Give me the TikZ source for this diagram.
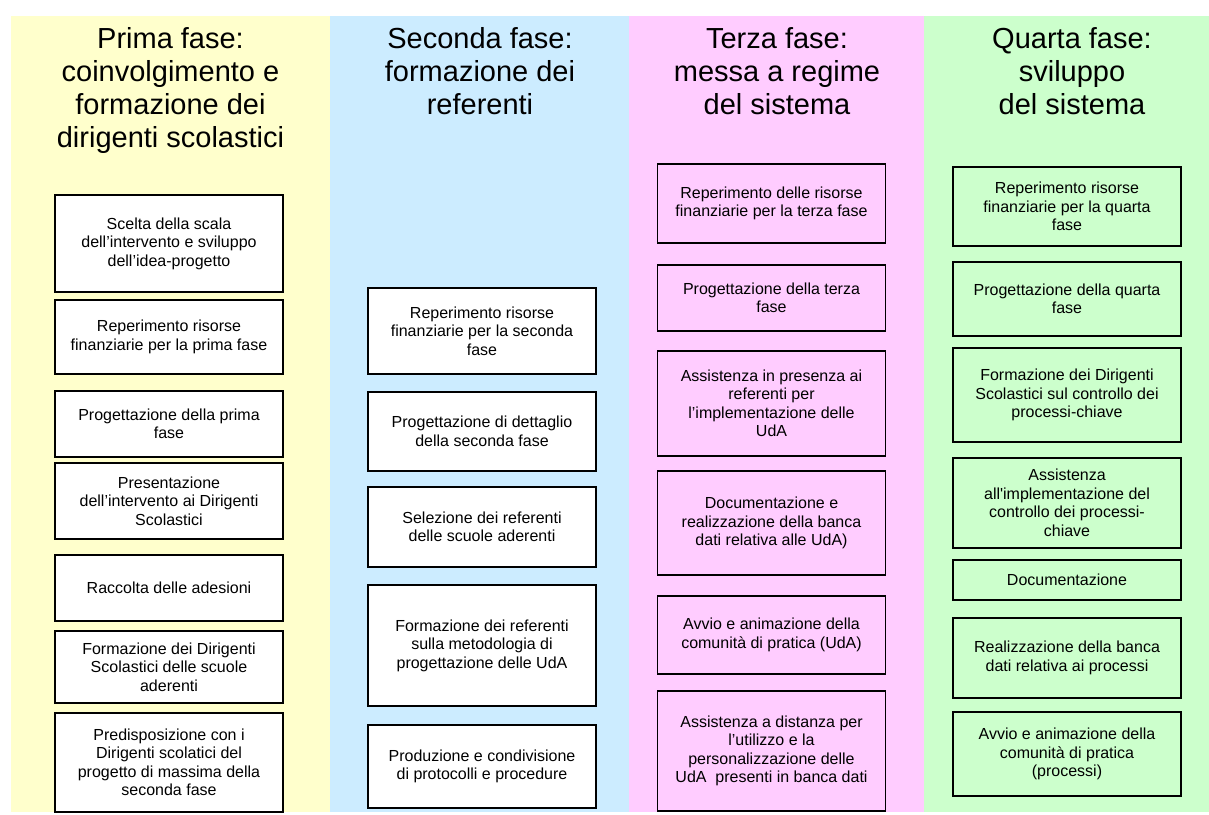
\documentclass[tikz,border=0pt]{standalone}
\usepackage{fontspec}
\setmainfont{Liberation Sans}
\definecolor{giallo}{HTML}{FFFFCC}
\definecolor{azzurro}{HTML}{CCECFF}
\definecolor{rosa}{HTML}{FFCCFF}
\definecolor{verde}{HTML}{CCFFCC}
\tikzset{
  titolo/.style={anchor=north, align=center, inner sep=0pt,
    font=\fontsize{29}{33}\selectfont},
  attivita/.style={draw=black, line width=1.6pt, align=center, inner sep=2pt,
    minimum width=228pt, font=\fontsize{16}{18.5}\selectfont},
}
\begin{document}
\begin{tikzpicture}[x=1pt, y=-1pt]
\useasboundingbox (0,0) rectangle (1209,814);

% === Fasce delle quattro fasi ===
\fill[giallo]  (11,16)  rectangle (330,812);
\fill[azzurro] (330,16) rectangle (629,812);
\fill[rosa]    (629,16) rectangle (924,812);
\fill[verde]   (924,16) rectangle (1209,812);

% === Prima fase ===
\begin{scope}[shift={(169,0)}]
  \node[titolo] (tit1) at (1.5,27) {Prima fase:\\coinvolgimento e\\formazione dei\\dirigenti scolastici};
  \node[attivita, fill=white, minimum height=97pt] (p1) at (0,243.5)
    {Scelta della scala\\dell’intervento e sviluppo\\dell’idea-progetto};
  \node[attivita, fill=white, minimum height=74pt] (p2) at (0,337)
    {Reperimento risorse\\finanziarie per la prima fase};
  \node[attivita, fill=white, minimum height=66pt] (p3) at (0,424)
    {Progettazione della prima\\fase};
  \node[attivita, fill=white, minimum height=76pt] (p4) at (0,501)
    {Presentazione\\dell’intervento ai Dirigenti\\Scolastici};
  \node[attivita, fill=white, minimum height=66pt] (p5) at (0,588)
    {Raccolta delle adesioni};
  \node[attivita, fill=white, minimum height=72pt] (p6) at (0,667)
    {Formazione dei Dirigenti\\Scolastici delle scuole\\aderenti};
  \node[attivita, fill=white, minimum height=99pt] (p7) at (0,762.5)
    {Predisposizione con i\\Dirigenti scolatici del\\progetto di massima della\\seconda fase};
\end{scope}

% === Seconda fase ===
\begin{scope}[shift={(482,0)}]
  \node[titolo] (tit2) at (-2,27) {Seconda fase:\\formazione dei\\referenti};
  \node[attivita, fill=white, minimum height=86pt] (s1) at (0,331)
    {Reperimento risorse\\finanziarie per la seconda\\fase};
  \node[attivita, fill=white, minimum height=79pt] (s2) at (0,431.5)
    {Progettazione di dettaglio\\della seconda fase};
  \node[attivita, fill=white, minimum height=80pt] (s3) at (0,527)
    {Selezione dei referenti\\delle scuole aderenti};
  \node[attivita, fill=white, minimum height=121pt] (s4) at (0,645.5)
    {Formazione dei referenti\\sulla metodologia di\\progettazione delle UdA};
  \node[attivita, fill=white, minimum height=83pt] (s5) at (0,766.5)
    {Produzione e condivisione\\di protocolli e procedure};
\end{scope}

% === Terza fase ===
\begin{scope}[shift={(771.5,0)}]
  \node[titolo] (tit3) at (5.5,27) {Terza fase:\\messa a regime\\del sistema};
  \node[attivita, fill=rosa, minimum height=79pt] (t1) at (0,203.5)
    {Reperimento delle risorse\\finanziarie per la terza fase};
  \node[attivita, fill=rosa, minimum height=66pt] (t2) at (0,298)
    {Progettazione della terza\\fase};
  \node[attivita, fill=rosa, minimum height=105pt] (t3) at (0,403.5)
    {Assistenza in presenza ai\\referenti per\\l’implementazione delle\\UdA};
  \node[attivita, fill=rosa, minimum height=104pt] (t4) at (0,523)
    {Documentazione e\\realizzazione della banca\\dati relativa alle UdA)};
  \node[attivita, fill=rosa, minimum height=78pt] (t5) at (0,635)
    {Avvio e animazione della\\comunità di pratica (UdA)};
  \node[attivita, fill=rosa, minimum height=120pt] (t6) at (0,751)
    {Assistenza a distanza per\\l’utilizzo e la\\personalizzazione delle\\UdA\ \ presenti in banca dati};
\end{scope}

% === Quarta fase ===
\begin{scope}[shift={(1067,0)}]
  \node[titolo] (tit4) at (5,27) {Quarta fase:\\sviluppo\\del sistema};
  \node[attivita, fill=verde, minimum height=79pt] (q1) at (0,206.5)
    {Reperimento risorse\\finanziarie per la quarta\\fase};
  \node[attivita, fill=verde, minimum height=74pt] (q2) at (0,299)
    {Progettazione della quarta\\fase};
  \node[attivita, fill=verde, minimum height=94pt] (q3) at (0,395)
    {Formazione dei Dirigenti\\Scolastici sul controllo dei\\processi-chiave};
  \node[attivita, fill=verde, minimum height=90pt] (q4) at (0,503)
    {Assistenza\\all\textquotesingle implementazione del\\controllo dei processi-\\chiave};
  \node[attivita, fill=verde, minimum height=40pt] (q5) at (0,580)
    {Documentazione};
  \node[attivita, fill=verde, minimum height=80pt] (q6) at (0,658)
    {Realizzazione della banca\\dati relativa ai processi};
  \node[attivita, fill=verde, minimum height=84pt] (q7) at (0,754)
    {Avvio e animazione della\\comunità di pratica\\(processi)};
\end{scope}

\end{tikzpicture}
\end{document}
